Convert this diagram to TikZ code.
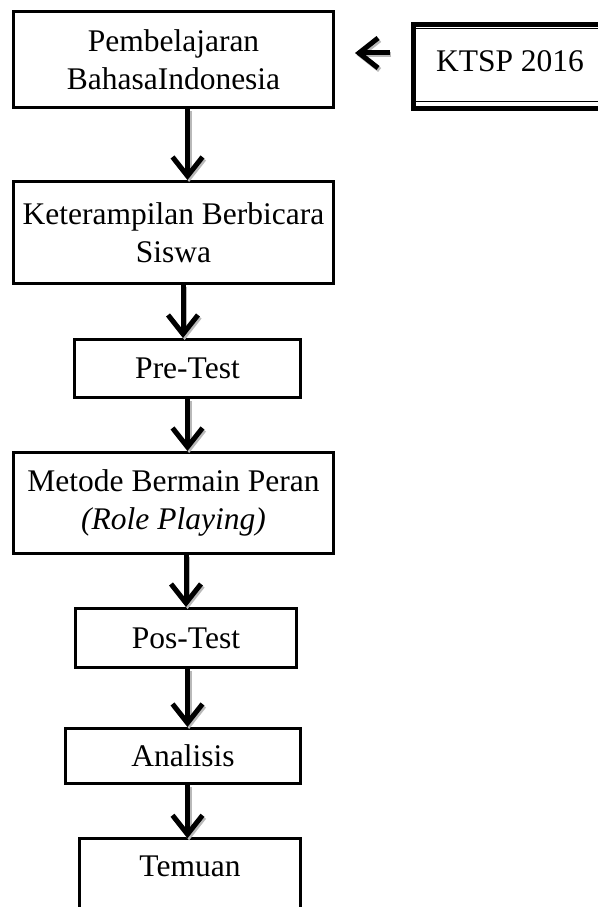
\documentclass[tikz,border=0pt]{standalone}
\usepackage{fontspec}
\setmainfont{Liberation Serif}
\usetikzlibrary{arrows.meta,calc}
\begin{document}
\begin{tikzpicture}[x=1pt,y=-1pt,
  txt/.style={inner sep=0pt, align=center, font=\fontsize{31.5}{38}\selectfont},
  box/.style={txt, draw, line width=3pt},
  arr/.style={line width=5pt, -{Straight Barb[length=19pt,width=30pt]}},
  arrshadow/.style={arr, draw=gray!55, transform canvas={shift={(1.6pt,-2pt)}}},
  ]
\useasboundingbox (0,0) rectangle (597,907);
% boxes
\node[box, minimum width=320pt, minimum height=96pt] (box1) at (173.5,59.5) {Pembelajaran\\BahasaIndonesia};
\node[box, minimum width=320pt, minimum height=102pt] (box2) at (173.5,232.5) {Keterampilan Berbicara\\Siswa};
\node[box, minimum width=226pt, minimum height=58pt] (pre) at (187.5,368.5) {Pre-Test};
\node[box, minimum width=320pt, minimum height=101pt] (met) at (173.5,503) {Metode Bermain Peran\\\textit{(Role Playing)}};
\node[box, minimum width=221pt, minimum height=59pt] (pos) at (186,638) {Pos-Test};
\node[box, minimum width=235pt, minimum height=55pt] (ana) at (183,756) {Analisis};
\node[txt, minimum width=221pt, minimum height=55pt] (tem) at (190,866) {Temuan};
\draw[line width=3pt] ([yshift=-40pt]tem.south west) -- (tem.north west) -- (tem.north east) -- ([yshift=-40pt]tem.south east);
% KTSP double box
\node[draw, line width=4.5pt, inner sep=0pt, minimum width=220pt, minimum height=84pt] (ktsp) at (523.7,66.6) {};
\draw[line width=1pt] ([shift={(4pt,-6pt)}]ktsp.north west) rectangle ([shift={(-4pt,9.5pt)}]ktsp.south east);
\node[txt] (ktsptext) at (510,61) {KTSP 2016};
% arrows
\foreach \s/\a/\b in {arrshadow/{box1.south -| pre.north}/{box2.north -| pre.north},
                      arr/{box1.south -| pre.north}/{box2.north -| pre.north},
                      arrshadow/{box2.south -| ana.north}/{pre.north -| ana.north},
                      arr/{box2.south -| ana.north}/{pre.north -| ana.north},
                      arrshadow/pre.south/{met.north -| pre.south},
                      arr/pre.south/{met.north -| pre.south},
                      arrshadow/{met.south -| pos.north}/pos.north,
                      arr/{met.south -| pos.north}/pos.north,
                      arrshadow/{pos.south -| pre.south}/{ana.north -| pre.south},
                      arr/{pos.south -| pre.south}/{ana.north -| pre.south},
                      arrshadow/{ana.south -| pre.south}/{tem.north -| pre.south},
                      arr/{ana.south -| pre.south}/{tem.north -| pre.south}}
  \draw[\s] (\a) -- (\b);
\draw[arrshadow, shorten <=21.7pt, shorten >=20pt] (ktsp.west |- 0,53) -- (box1.east |- 0,53);
\draw[arr, shorten <=21.7pt, shorten >=20pt] (ktsp.west |- 0,53) -- (box1.east |- 0,53);
\end{tikzpicture}
\end{document}
